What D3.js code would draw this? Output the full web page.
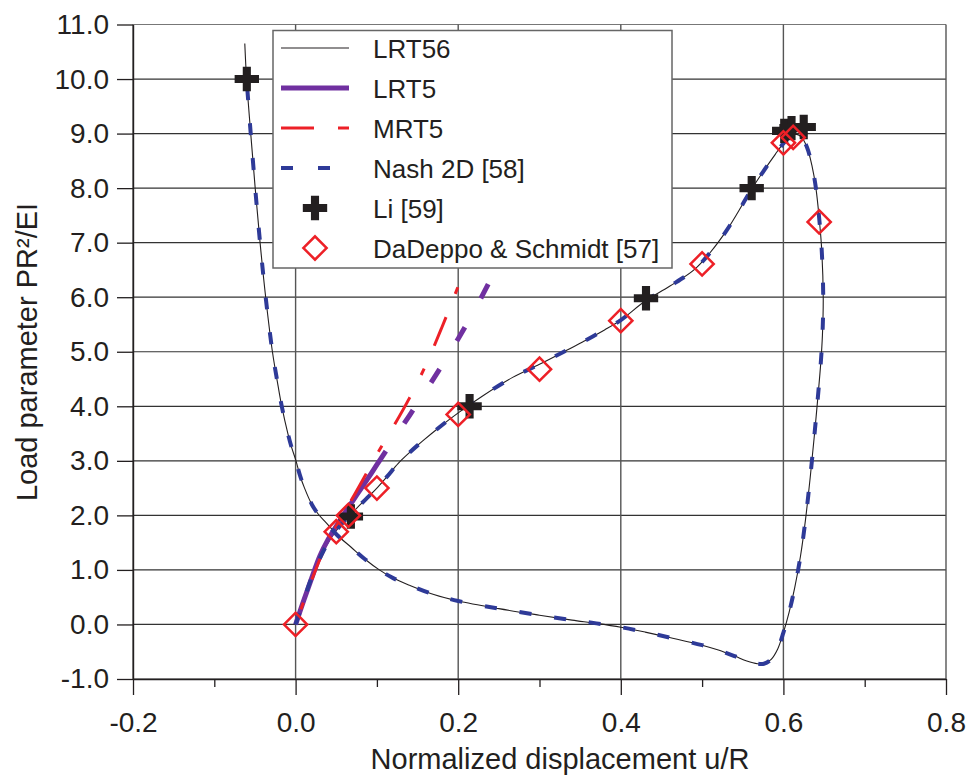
<!DOCTYPE html>
<html>
<head>
<meta charset="utf-8">
<script src="https://cdn.jsdelivr.net/npm/d3@7"></script>
<style>
  html, body { margin: 0; padding: 0; background: #fff; }
  svg { display: block; font-family: "Liberation Sans", Arial, sans-serif; }
</style>
</head>
<body>
<svg id="chart" width="972" height="778"></svg>
<script>
// ---------------- DATA ----------------
const xTicks = [-0.2, 0.0, 0.2, 0.4, 0.6, 0.8];
const xMinorTicks = [-0.1, 0.1, 0.3, 0.5, 0.7];
const yTicks = [-1, 0, 1, 2, 3, 4, 5, 6, 7, 8, 9, 10, 11];

const seriesNames = ["LRT56", "LRT5", "MRT5", "Nash 2D [58]", "Li [59]", "DaDeppo & Schmidt [57]"];

// LRT56: full equilibrium path, from origin up to limit point, snap-back, and left branch
const lrt56 = [
  [0,0],[0.008,0.35],[0.017,0.75],[0.027,1.12],[0.038,1.45],[0.05,1.72],[0.062,1.93],
  [0.075,2.13],[0.088,2.32],[0.1,2.5],[0.113,2.72],[0.126,2.95],[0.14,3.15],[0.156,3.36],
  [0.178,3.63],[0.2,3.88],[0.23,4.19],[0.267,4.53],[0.3,4.77],[0.33,5.0],[0.353,5.18],
  [0.38,5.4],[0.4,5.58],[0.43,5.93],[0.46,6.2],[0.49,6.5],[0.51,6.82],[0.53,7.22],
  [0.545,7.58],[0.56,7.96],[0.575,8.3],[0.59,8.62],[0.6,8.82],[0.608,8.94],[0.615,8.99],
  [0.622,8.94],[0.629,8.75],[0.635,8.42],[0.64,8.0],[0.644,7.45],[0.647,6.9],[0.649,6.0],
  [0.648,5.3],[0.646,4.8],[0.642,4.1],[0.638,3.45],[0.633,2.7],[0.627,1.9],[0.621,1.25],
  [0.614,0.68],[0.607,0.22],[0.6,-0.15],[0.593,-0.45],[0.585,-0.64],[0.576,-0.72],
  [0.568,-0.72],[0.555,-0.67],[0.54,-0.58],[0.52,-0.47],[0.5,-0.38],[0.46,-0.24],
  [0.43,-0.14],[0.4,-0.05],[0.37,0.02],[0.34,0.08],[0.3,0.17],[0.25,0.29],[0.2,0.43],
  [0.17,0.55],[0.14,0.72],[0.12,0.85],[0.103,1.0],[0.085,1.2],[0.068,1.42],[0.051,1.64],
  [0.038,1.86],[0.028,2.02],[0.02,2.2],[0.011,2.5],[0.005,2.75],[0.0005,3.0],
  [-0.005,3.25],[-0.0095,3.5],[-0.017,4.0],[-0.0215,4.37],[-0.0285,5.0],[-0.0368,6.0],
  [-0.0437,7.0],[-0.0497,8.0],[-0.0552,9.0],[-0.0603,10.0],[-0.0625,10.65]
];

// Nash 2D [58]: same path, ends at load 10.0
const nash2d = lrt56.filter(d => d[1] <= 10.0);

// LRT5
const lrt5 = [
  [0,0],[0.01,0.44],[0.02,0.86],[0.03,1.26],[0.04,1.56],[0.05,1.8],[0.062,2.08],
  [0.075,2.37],[0.09,2.7],[0.1,2.93],[0.111,3.18],[0.12,3.38],[0.14,3.83],[0.16,4.28],
  [0.18,4.75],[0.2,5.24],[0.22,5.76],[0.24,6.33],[0.26,6.92],[0.28,7.5]
];
const lrt5SolidEnd = 0.111;

// MRT5
const mrt5 = [
  [0,0],[0.01,0.42],[0.02,0.82],[0.03,1.2],[0.04,1.52],[0.05,1.8],[0.06,2.06],
  [0.08,2.58],[0.1,3.12],[0.12,3.62],[0.14,4.15],[0.16,4.75],[0.18,5.45],[0.2,6.2],
  [0.22,7.0],[0.24,7.8]
];

// Li [59]
const li59 = [
  [-0.06,10.0],[0.068,1.98],[0.214,4.0],[0.431,5.98],[0.561,8.0],
  [0.601,9.05],[0.61,9.1],[0.625,9.12]
];

// DaDeppo & Schmidt [57]
const dadeppo57 = [
  [0,0],[0.05,1.7],[0.065,2.0],[0.1,2.5],[0.2,3.85],[0.3,4.68],[0.4,5.57],
  [0.5,6.61],[0.6,8.83],[0.612,8.93],[0.644,7.38]
];

// ---------------- CHART ----------------
const W = 972, H = 778;
const L = 133, R = 946, T = 24.5, B = 679;
const ink = "#231f20";
const purple = "#7030a0", red = "#ed2027", blue = "#2e3a98";

const svg = d3.select("#chart");
const x = d3.scaleLinear().domain([-0.2, 0.8]).range([L, R]);
const y = d3.scaleLinear().domain([-1, 11]).range([B, T]);

// gridlines
const grid = svg.append("g");
grid.selectAll("line.h").data(yTicks).join("line")
  .attr("x1", L).attr("x2", R).attr("y1", d => y(d)).attr("y2", d => y(d))
  .attr("stroke", d => d === 11 ? "#777" : "#333").attr("stroke-width", 1.2);
grid.selectAll("line.v").data(xTicks).join("line")
  .attr("x1", d => x(d)).attr("x2", d => x(d)).attr("y1", T).attr("y2", B)
  .attr("stroke", "#555").attr("stroke-width", 1.4);

// axes
const yAxis = svg.append("g").attr("transform", `translate(${L},0)`)
  .call(d3.axisLeft(y).tickValues(yTicks).tickSize(16).tickSizeOuter(0).tickPadding(8)
    .tickFormat(d => d.toFixed(1)));
const xAxis = svg.append("g").attr("transform", `translate(0,${B})`)
  .call(d3.axisBottom(x).tickValues(xTicks).tickSize(16).tickSizeOuter(0).tickPadding(17)
    .tickFormat(d => d.toFixed(1)));
const xMinor = svg.append("g").attr("transform", `translate(0,${B})`)
  .call(d3.axisBottom(x).tickValues(xMinorTicks).tickSize(8).tickSizeOuter(0).tickFormat(""));
xMinor.select(".domain").remove();
[yAxis, xAxis, xMinor].forEach(g => {
  g.selectAll("path.domain").attr("stroke", ink).attr("stroke-width", 1.4);
  g.selectAll(".tick line").attr("stroke", ink).attr("stroke-width", 1.3);
  g.selectAll(".tick text").attr("fill", ink).style("font-size", "28px")
    .style("font-family", '"Liberation Sans", Arial, sans-serif');
});

// axis titles
svg.append("text").attr("x", 560).attr("y", 769).attr("text-anchor", "middle")
  .attr("fill", ink).style("font-size", "29px").text("Normalized displacement u/R");
svg.append("text").attr("transform", "translate(37,352) rotate(-90)").attr("text-anchor", "middle")
  .attr("fill", ink).style("font-size", "29px").text("Load parameter PR²/EI");

// lines
const line = d3.line().x(d => x(d[0])).y(d => y(d[1])).curve(d3.curveCatmullRom.alpha(0.5));
const plot = svg.append("g");

plot.append("path").datum(lrt56).attr("d", line)
  .attr("fill", "none").attr("stroke", ink).attr("stroke-width", 1.1);

plot.append("path").datum(lrt5.filter(d => d[0] <= lrt5SolidEnd)).attr("d", line)
  .attr("fill", "none").attr("stroke", purple).attr("stroke-width", 5);
plot.append("path").datum(lrt5.filter(d => d[0] >= lrt5SolidEnd)).attr("d", line)
  .attr("fill", "none").attr("stroke", purple).attr("stroke-width", 5)
  .attr("stroke-dasharray", "16,33").attr("stroke-dashoffset", 16);

plot.append("path").datum(mrt5).attr("d", line)
  .attr("fill", "none").attr("stroke", red).attr("stroke-width", 3)
  .attr("stroke-dasharray", "31,25,7,25").attr("stroke-dashoffset", 40);

plot.append("path").datum(nash2d).attr("d", line)
  .attr("fill", "none").attr("stroke", blue).attr("stroke-width", 4)
  .attr("stroke-dasharray", "12,23");

const cross = d3.symbol().type(d3.symbolCross).size(330);
const square = d3.symbol().type(d3.symbolSquare).size(270);

plot.selectAll("path.li").data(li59).join("path").attr("class", "li")
  .attr("d", cross).attr("transform", d => `translate(${x(d[0])},${y(d[1])})`)
  .attr("fill", ink);

plot.selectAll("path.dd").data(dadeppo57).join("path").attr("class", "dd")
  .attr("d", square).attr("transform", d => `translate(${x(d[0])},${y(d[1])}) rotate(45)`)
  .attr("fill", "none").attr("stroke", red).attr("stroke-width", 2.5);

// legend
const lg = svg.append("g");
lg.append("rect").attr("x", 273).attr("y", 30.5).attr("width", 399).attr("height", 237.5)
  .attr("fill", "#fff").attr("stroke", "#666").attr("stroke-width", 1.5);
const rowY = i => 48 + i * 40;
const sx1 = 281, sx2 = 349, tx = 373;
const styles = [
  {stroke: ink, w: 1.1, dash: null},
  {stroke: purple, w: 5, dash: null},
  {stroke: red, w: 3, dash: "33,24,11,24"},
  {stroke: blue, w: 4, dash: "12,25"}
];
styles.forEach((s, i) => {
  lg.append("line").attr("x1", sx1).attr("x2", sx2).attr("y1", rowY(i)).attr("y2", rowY(i))
    .attr("stroke", s.stroke).attr("stroke-width", s.w)
    .attr("stroke-dasharray", s.dash);
});
lg.append("path").attr("d", cross).attr("transform", `translate(${(sx1 + sx2) / 2},${rowY(4)})`)
  .attr("fill", ink);
lg.append("path").attr("d", square).attr("transform", `translate(${(sx1 + sx2) / 2},${rowY(5)}) rotate(45)`)
  .attr("fill", "none").attr("stroke", red).attr("stroke-width", 2.5);
seriesNames.forEach((n, i) => {
  lg.append("text").attr("x", tx).attr("y", rowY(i) + 9.5).attr("fill", ink)
    .style("font-size", "26px").text(n);
});
</script>
</body>
</html>
